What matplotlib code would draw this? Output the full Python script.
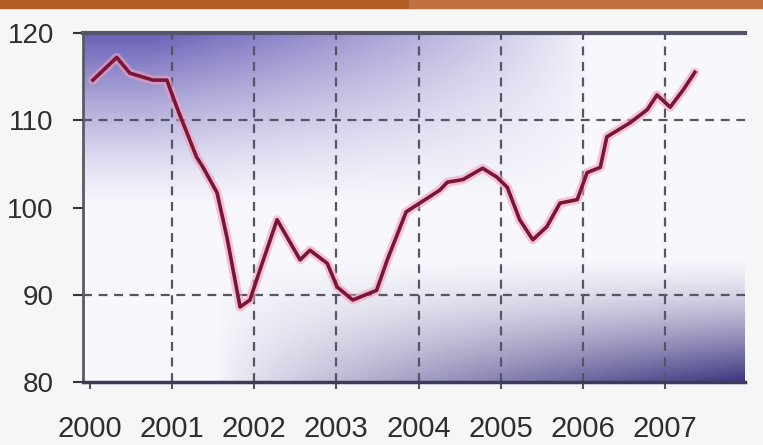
import numpy as np
import matplotlib
matplotlib.use("Agg")
import matplotlib.pyplot as plt
from matplotlib.patches import Rectangle

# index values (x in fractional years)
years = [2000.04, 2000.33, 2000.49, 2000.77, 2000.94, 2001.06, 2001.30, 2001.38,
         2001.55, 2001.67, 2001.83, 2001.95, 2002.07, 2002.28, 2002.56, 2002.68,
         2002.89, 2003.01, 2003.20, 2003.49, 2003.62, 2003.85, 2004.26, 2004.35,
         2004.54, 2004.78, 2004.95, 2005.08, 2005.23, 2005.39, 2005.56, 2005.72,
         2005.93, 2006.05, 2006.21, 2006.29, 2006.57, 2006.78, 2006.90, 2007.06,
         2007.22, 2007.36]
values = [114.6, 117.2, 115.4, 114.6, 114.6, 111.5, 105.8, 104.6,
          101.7, 96.6, 88.6, 89.4, 92.8, 98.6, 94.0, 95.1,
          93.6, 90.9, 89.4, 90.5, 94.0, 99.5, 102.0, 102.9,
          103.2, 104.5, 103.5, 102.3, 98.6, 96.3, 97.8, 100.5,
          100.9, 104.0, 104.6, 108.1, 109.7, 111.2, 112.9, 111.5,
          113.5, 115.5]
xticks = [2000, 2001, 2002, 2003, 2004, 2005, 2006, 2007]
yticks = [80, 90, 100, 110, 120]
ygrid = [90, 110]

W, H = 763, 445
fig = plt.figure(figsize=(W / 100, H / 100), dpi=100, facecolor="#f6f6f6")
ax = fig.add_axes([83 / W, 1 - 382 / H, (745 - 83) / W, (382 - 33) / H])
x0, x1 = 1999.92, 2007.97
y0, y1 = 80, 120
ax.set_xlim(x0, x1)
ax.set_ylim(y0, y1)

# purple shading of the plot area
u, v = np.meshgrid(np.linspace(0, 1, 300), np.linspace(1, 0, 200))
base = np.array([0.97, 0.97, 0.99])
c_top = np.array([0.42, 0.38, 0.72])
c_bot = np.array([0.24, 0.21, 0.50])
w1 = np.clip((v - 0.5) / 0.5, 0, 1) ** 1.3 * np.clip(1.15 - 1.5 * u, 0, 1) ** 0.8
w2 = np.clip((0.36 - v) / 0.36, 0, 1) ** 1.4 * np.clip((u - 0.2) / 0.8, 0, 1) ** 0.8
img = base * (1 - w1 - w2)[..., None] + c_top * w1[..., None] + c_bot * w2[..., None]
ax.imshow(img, extent=[x0, x1, y0, y1], aspect="auto", zorder=0, interpolation="bilinear")

# dashed grid
for xv in xticks[1:]:
    ax.axvline(xv, color="#555565", lw=1.6, ls=(0, (4, 3)), zorder=1)
for yv in ygrid:
    ax.axhline(yv, color="#555565", lw=1.6, ls=(0, (4, 3)), zorder=1)

# the series: pink halo with dark red line
ax.plot(years, values, color="#f0a0c0", lw=6.5, alpha=0.6, zorder=2, solid_capstyle="round")
ax.plot(years, values, color="#7a1534", lw=2.6, zorder=3, solid_joinstyle="round")

ax.set_xticks(xticks)
ax.set_xticklabels([str(y) for y in xticks])
ax.set_yticks(yticks)
ax.tick_params(axis="x", length=5, width=1.5, color="#555555", pad=19,
               labelsize=21, labelcolor="#2e2e2e")
ax.tick_params(axis="y", length=7, width=1.5, color="#333333", pad=14,
               labelsize=20, labelcolor="#2e2e2e")
for lab in ax.get_xticklabels() + ax.get_yticklabels():
    lab.set_family(["Liberation Sans Narrow", "Liberation Sans", "DejaVu Sans"])

ax.spines["right"].set_visible(False)
ax.spines["left"].set_color("#5a5a66")
ax.spines["left"].set_linewidth(2)
ax.spines["bottom"].set_color("#3c3c5a")
ax.spines["bottom"].set_linewidth(2.5)
ax.spines["top"].set_color("#55556a")
ax.spines["top"].set_linewidth(3)

# orange header strip cut off at the top
fig.patches.append(Rectangle((0, 1 - 8 / H), 409 / W, 8 / H, transform=fig.transFigure,
                             color="#b45d27", zorder=5))
fig.patches.append(Rectangle((409 / W, 1 - 8 / H), 1 - 409 / W, 8 / H,
                             transform=fig.transFigure, color="#c1713f", zorder=5))

fig.savefig("out.png", dpi=100, facecolor=fig.get_facecolor())
